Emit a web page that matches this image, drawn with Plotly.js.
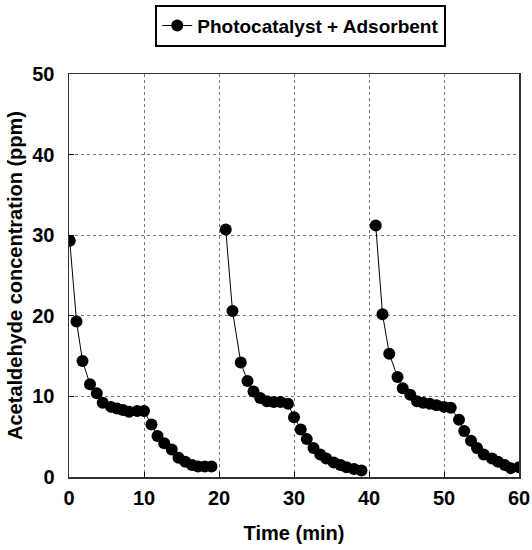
<!DOCTYPE html>
<html>
<head>
<meta charset="utf-8">
<script src="https://cdn.plot.ly/plotly-3.0.1.min.js"></script>
<style>html,body{margin:0;padding:0;background:#fff;}#chart{width:532px;height:550px;}</style>
</head>
<body>
<div id="chart"></div>
<script>
const cycle1Time = [0.1, 1.0, 1.8, 2.8, 3.7, 4.5, 5.6, 6.4, 7.2, 8.0, 9.1, 10.0, 11.0, 11.8, 12.7, 13.7, 14.6, 15.5, 16.4, 17.2, 18.1, 19.0];
const cycle1Conc = [29.3, 19.3, 14.4, 11.5, 10.4, 9.2, 8.7, 8.5, 8.3, 8.1, 8.2, 8.2, 6.5, 5.1, 4.2, 3.4, 2.4, 1.9, 1.5, 1.3, 1.3, 1.3];
const cycle2Time = [20.9, 21.8, 22.9, 23.8, 24.6, 25.5, 26.4, 27.3, 28.2, 29.2, 30.0, 30.9, 31.7, 32.6, 33.5, 34.3, 35.3, 36.2, 37.0, 38.0, 39.0];
const cycle2Conc = [30.7, 20.6, 14.2, 11.9, 10.6, 9.8, 9.4, 9.3, 9.3, 9.1, 7.4, 5.9, 4.7, 3.6, 2.8, 2.3, 1.8, 1.5, 1.2, 1.0, 0.8];
const cycle3Time = [40.9, 41.8, 42.7, 43.8, 44.5, 45.5, 46.4, 47.2, 48.1, 49.0, 50.0, 50.9, 52.0, 52.7, 53.6, 54.4, 55.3, 56.4, 57.2, 58.1, 58.9, 60.0];
const cycle3Conc = [31.2, 20.2, 15.3, 12.4, 11.0, 10.2, 9.4, 9.2, 9.1, 8.9, 8.7, 8.6, 7.1, 5.7, 4.5, 3.6, 2.8, 2.3, 1.9, 1.5, 1.1, 1.2];
const seriesName = 'Photocatalyst + Adsorbent';
const xTicks = [0, 10, 20, 30, 40, 50, 60];
const yTicks = [0, 10, 20, 30, 40, 50];

const time = cycle1Time.concat([null], cycle2Time, [null], cycle3Time);
const conc = cycle1Conc.concat([null], cycle2Conc, [null], cycle3Conc);

const FONT = '"Liberation Sans", Arial, sans-serif';

const trace = {
  x: time, y: conc, name: seriesName, type: 'scatter', mode: 'lines+markers',
  connectgaps: false,
  line: {color: '#000', width: 1},
  marker: {color: '#000', size: 12, symbol: 'circle'}
};

const axisCommon = {
  showline: true, linecolor: '#333', linewidth: 1.5, mirror: true,
  showgrid: true, gridcolor: '#777', griddash: 'dot', gridwidth: 1,
  ticks: 'inside', ticklen: 5, tickcolor: '#000',
  zeroline: false, automargin: false,
  tickfont: {family: FONT, size: 20, color: '#000', weight: 'bold'}
};

const layout = {
  width: 532, height: 550,
  margin: {l: 69, r: 13, t: 74, b: 73, autoexpand: false},
  paper_bgcolor: '#fff', plot_bgcolor: '#fff',
  showlegend: true,
  legend: {
    x: 0.515, xanchor: 'center', y: 1.172, yanchor: 'top',
    bordercolor: '#000', borderwidth: 2, bgcolor: '#fff',
    itemwidth: 30,
    font: {family: FONT, size: 19, color: '#000', weight: 'bold'}
  },
  xaxis: Object.assign({}, axisCommon, {
    range: [0, 60], tickvals: xTicks, ticktext: xTicks.map(String),
    ticklabelstandoff: 2,
    title: {text: 'Time (min)', standoff: 18, font: {family: FONT, size: 20, color: '#000', weight: 'bold'}}
  }),
  yaxis: Object.assign({}, axisCommon, {
    range: [0, 50], tickvals: yTicks, ticktext: yTicks.map(String),
    ticklabelstandoff: 9,
    title: {text: 'Acetaldehyde concentration (ppm)', standoff: 4, font: {family: FONT, size: 20, color: '#000', weight: 'bold'}}
  })
};

Plotly.newPlot('chart', [trace], layout, {displayModeBar: false, staticPlot: true});
</script>
</body>
</html>
